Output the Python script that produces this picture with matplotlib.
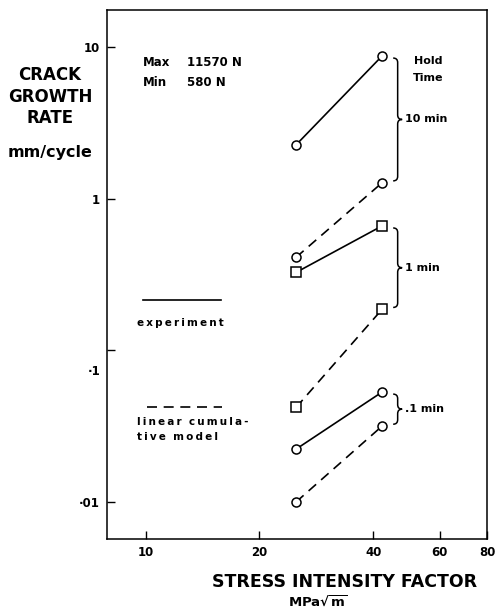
import matplotlib.pyplot as plt
import matplotlib.transforms as mtransforms
from matplotlib.path import Path
from matplotlib.patches import PathPatch
from matplotlib.lines import Line2D

plt.rcParams['font.family'] = ['DejaVu Sans']
plt.rcParams['font.weight'] = 'bold'

# stress intensity factor, MPa sqrt(m)
dk = [25.0, 42.2]

hold_times = ['10 min', '1 min', '.1 min']
markers = ['o', 's', 'o']
# crack growth rate, mm/cycle
experiment = [[2.26, 8.7], [0.326, 0.66], [0.0223, 0.053]]
model = [[0.41, 1.27], [0.042, 0.186], [0.010, 0.0316]]

x_ticks = [10, 20, 40, 60, 80]
y_ticks = [10, 1, 0.1, 0.01]
y_tick_labels = ['10', '1', '\u00b71', '\u00b701']

W, H = 495, 612
fig = plt.figure(figsize=(W / 100, H / 100), dpi=100)
ax = fig.add_axes([107 / W, 1 - 539 / H, (487 - 107) / W, (539 - 10) / H])


def fx(x):
    return x / W


def fy(y):
    return 1 - y / H


def spaced(s):
    # old typewriter-like letter spacing
    return '\u2009'.join(s)


ax.set_xscale('log')
ax.set_yscale('log')
ax.set_xlim(7.9, 80)
ax.set_ylim(0.0057, 17.5)

for i, name in enumerate(hold_times):
    ax.plot(dk, experiment[i], color='black', lw=1.2, marker=markers[i],
            ms=6.5, mfc='white', mec='black', mew=1.1)
    ax.plot(dk, model[i], color='black', lw=1.2, ls=(0, (6, 4)), marker=markers[i],
            ms=6.5, mfc='white', mec='black', mew=1.1)

ax.set_xticks(x_ticks)
ax.set_xticklabels([str(t) for t in x_ticks])
ax.set_yticks(y_ticks)
ax.set_yticklabels(y_tick_labels)
ax.minorticks_off()
ax.tick_params(direction='in', length=6, width=1, labelsize=8.5, pad=5)
for lab in ax.get_yticklabels():
    if lab.get_text() == '\u00b71':
        lab.set_transform(lab.get_transform() + mtransforms.ScaledTranslation(0, -0.2, fig.dpi_scale_trans))
for s in ax.spines.values():
    s.set_linewidth(1.1)

# curly braces to the right of each hold-time group
inv = fig.transFigure.inverted()


def brace(x_data, y_top, y_bot, w=4.5):
    (x0, yt), = ax.transData.transform([(x_data, y_top)])
    (_, yb), = ax.transData.transform([(x_data, y_bot)])
    ym = (yt + yb) / 2
    pts = [(x0 - w, yt), (x0, yt), (x0, yt - w),
           (x0, ym + w), (x0, ym), (x0 + w, ym),
           (x0, ym), (x0, ym - w),
           (x0, yb + w), (x0, yb), (x0 - w, yb)]
    codes = [Path.MOVETO, Path.CURVE3, Path.CURVE3,
             Path.LINETO, Path.CURVE3, Path.CURVE3,
             Path.CURVE3, Path.CURVE3,
             Path.LINETO, Path.CURVE3, Path.CURVE3]
    p = Path(inv.transform(pts), codes)
    fig.add_artist(PathPatch(p, fc='none', ec='black', lw=1.1, transform=fig.transFigure))
    return inv.transform([(x0 + w + 3, ym)])[0]


for i, name in enumerate(hold_times):
    ys = [experiment[i][1], model[i][1]]
    tx, ty = brace(dk[1] * 1.1, max(ys) * 0.97, min(ys) * 1.03)
    fig.text(tx, ty, name, fontsize=8, ha='left', va='center')

fig.text(fx(428), fy(61), 'Hold', fontsize=8, ha='center', va='center')
fig.text(fx(428), fy(78), 'Time', fontsize=8, ha='center', va='center')

fig.text(fx(143), fy(62), 'Max', fontsize=8.5, ha='left', va='center')
fig.text(fx(187), fy(62), '11570 N', fontsize=8.5, ha='left', va='center')
fig.text(fx(143), fy(83), 'Min', fontsize=8.5, ha='left', va='center')
fig.text(fx(187), fy(83), '580 N', fontsize=8.5, ha='left', va='center')

# legend
fig.add_artist(Line2D([fx(143), fx(221)], [fy(300), fy(300)], color='black', lw=1.2))
fig.text(fx(137), fy(323), spaced('experiment'), fontsize=7.5, ha='left', va='center')
fig.add_artist(Line2D([fx(147), fx(222)], [fy(407), fy(407)], color='black', lw=1.2, ls=(0, (6, 4))))
fig.text(fx(137), fy(422), spaced('linear') + '  ' + spaced('cumula-'), fontsize=7.5, ha='left', va='center')
fig.text(fx(137), fy(437), spaced('tive') + '  ' + spaced('model'), fontsize=7.5, ha='left', va='center')

# axis titles
for txt, y in [('CRACK', 75), ('GROWTH', 97), ('RATE', 118)]:
    fig.text(fx(50), fy(y), txt, fontsize=12, ha='center', va='center')
fig.text(fx(50), fy(152), 'mm/cycle', fontsize=11.5, ha='center', va='center')

fig.text(fx(345), fy(582), 'STRESS INTENSITY FACTOR', fontsize=12.5, ha='center', va='center')
fig.text(fx(318), fy(602), r'MPa$\sqrt{\mathbf{m}}$', fontsize=9.5, ha='center', va='center')

fig.savefig('out.png', dpi=100)
